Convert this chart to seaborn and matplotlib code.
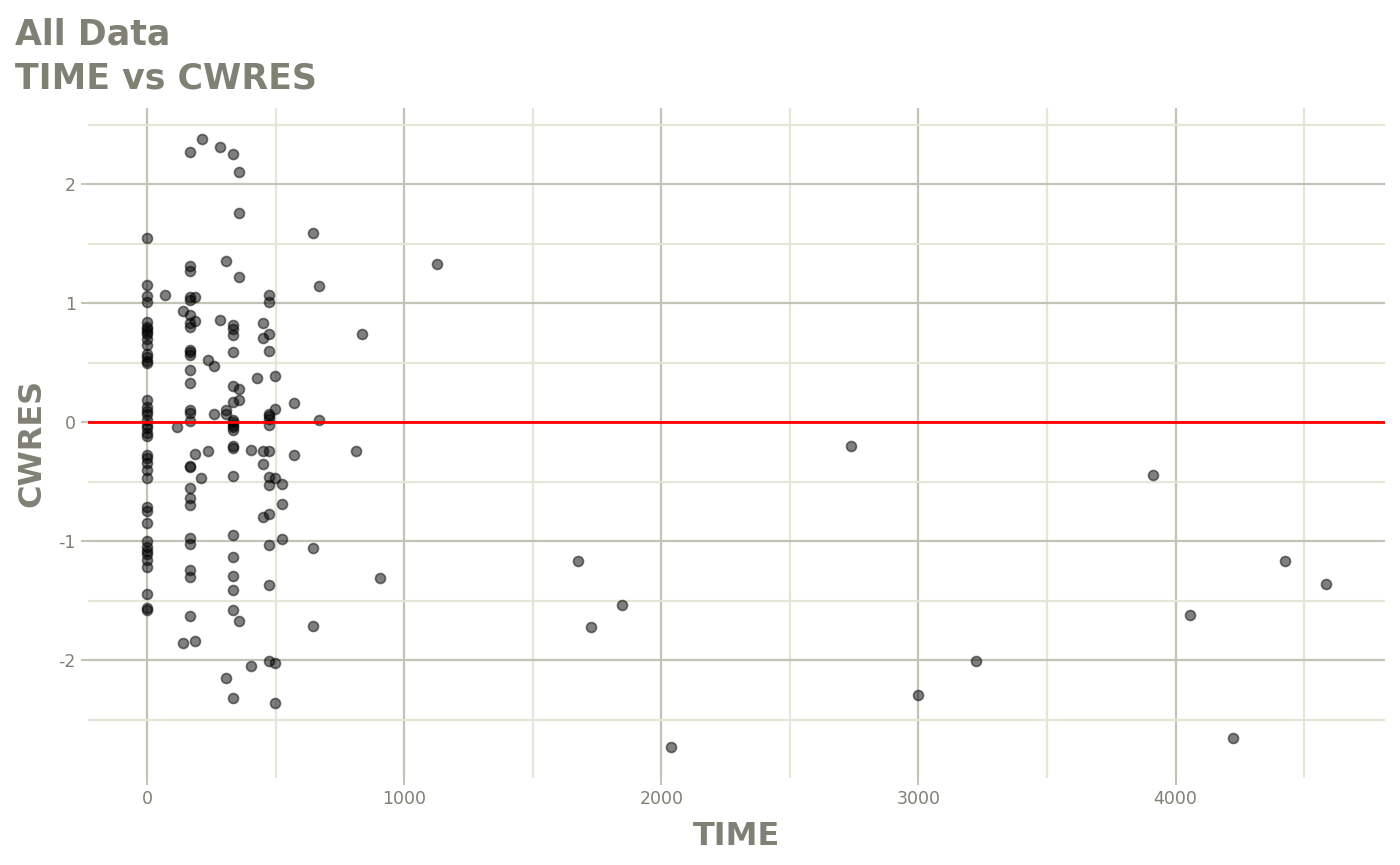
import matplotlib
matplotlib.use("Agg")
import matplotlib.pyplot as plt
from matplotlib.ticker import MultipleLocator
import seaborn as sns
import pandas as pd

# time groups (hours) and the CWRES read at each
T0 = [1.55, 1.15, 1.06, 1.01, 0.84, 0.80, 0.78, 0.76, 0.74, 0.70, 0.65, 0.57, 0.55, 0.51, 0.50,
      0.19, 0.13, 0.09, 0.07, 0.02, -0.02, -0.05, -0.09, -0.12, -0.28, -0.30, -0.34, -0.40, -0.47,
      -0.71, -0.75, -0.85, -1.00, -1.05, -1.08, -1.11, -1.16, -1.22, -1.44, -1.56, -1.58]
T168 = [2.27, 1.31, 1.27, 1.05, 1.03, 0.90, 0.83, 0.80, 0.61, 0.59, 0.56, 0.44, 0.33, 0.10, 0.08,
        0.01, -0.37, -0.38, -0.55, -0.64, -0.70, -0.97, -1.02, -1.24, -1.30, -1.63]
T336 = [2.25, 0.82, 0.78, 0.73, 0.59, 0.30, 0.17, 0.02, 0.00, -0.02, -0.04, -0.07, -0.20, -0.22,
        -0.45, -0.95, -1.13, -1.29, -1.41, -1.58, -2.32]
T475 = [1.07, 1.01, 0.74, 0.60, 0.07, 0.05, 0.03, -0.02, -0.24, -0.46, -0.53, -0.77, -1.03,
        -1.37, -2.01]

other_time = [70, 117, 140, 140, 187, 187, 187, 187, 214, 210, 237, 237, 260, 260, 284, 284,
              307, 307, 307, 307, 358, 358, 358, 358, 358, 358, 405, 405, 428, 451, 451, 451, 451,
              451, 498, 498, 498, 498, 498, 525, 525, 525, 572, 572, 646, 646, 646, 669, 669,
              813, 837, 907, 1128, 1677, 1728, 1848, 2039, 2739, 3000, 3222, 3911, 4058, 4222,
              4424, 4584]
other_cwres = [1.07, -0.04, 0.93, -1.86, 1.05, 0.85, -0.27, -1.84, 2.38, -0.47, 0.52, -0.24,
               0.47, 0.07, 2.31, 0.86, 1.35, 0.10, 0.07, -2.15, 2.10, 1.76, 1.22, 0.28, 0.19,
               -1.67, -2.05, -0.23, 0.37, 0.83, 0.71, -0.24, -0.35, -0.80, 0.39, 0.11, -0.47,
               -2.02, -2.36, -0.52, -0.69, -0.98, 0.16, -0.28, 1.59, -1.06, -1.71, 1.14, 0.02,
               -0.24, 0.74, -1.31, 1.33, -1.17, -1.72, -1.54, -2.73, -0.20, -2.29, -2.01, -0.44,
               -1.62, -2.65, -1.17, -1.36]

time = ([0] * len(T0) + [168] * len(T168) + [336] * len(T336) + [475] * len(T475)
        + other_time)
cwres = T0 + T168 + T336 + T475 + other_cwres
df = pd.DataFrame({"TIME": time, "CWRES": cwres})

TEXT = "#808075"
MAJOR = "#c2c2b6"
MINOR = "#e6e6d8"

sns.set_theme(style="white")
plt.rcParams["font.family"] = ["DejaVu Sans"]
plt.rcParams["axes.unicode_minus"] = False

fig = plt.figure(figsize=(14, 8.65), dpi=100)
ax = fig.add_axes([0.063, 0.1006, 0.926, 0.7746])

sns.scatterplot(data=df, x="TIME", y="CWRES", ax=ax, s=52, color="black", alpha=0.5,
                edgecolor="black", linewidth=1.2, zorder=3)
ax.axhline(0, color="#ff0000", lw=2, zorder=4)

# ggplot-style 5% expansion around the data
ax.set_xlim(-229, 4813)
ax.set_ylim(-2.99, 2.64)
ax.xaxis.set_major_locator(MultipleLocator(1000))
ax.xaxis.set_minor_locator(MultipleLocator(500))
ax.yaxis.set_major_locator(MultipleLocator(1))
ax.yaxis.set_minor_locator(MultipleLocator(0.5))
ax.grid(which="major", color=MAJOR, lw=1.6, zorder=0)
ax.grid(which="minor", color=MINOR, lw=1.6, zorder=0)
ax.set_axisbelow(True)
for sp in ax.spines.values():
    sp.set_visible(False)

ax.tick_params(which="major", length=5, width=1.4, color=MAJOR, labelcolor=TEXT,
               labelsize=12.5, pad=4, bottom=True, left=True)
ax.tick_params(which="minor", length=0)
ax.set_xlabel("TIME", fontsize=23, fontweight="bold", color=TEXT, labelpad=9)
ax.set_ylabel("CWRES", fontsize=23, fontweight="bold", color=TEXT, labelpad=8)

fig.text(0.011, 0.98, "All Data\nTIME vs CWRES", ha="left", va="top", fontsize=25,
         fontweight="bold", color=TEXT, linespacing=1.38)

fig.savefig("out.png", dpi=100)
